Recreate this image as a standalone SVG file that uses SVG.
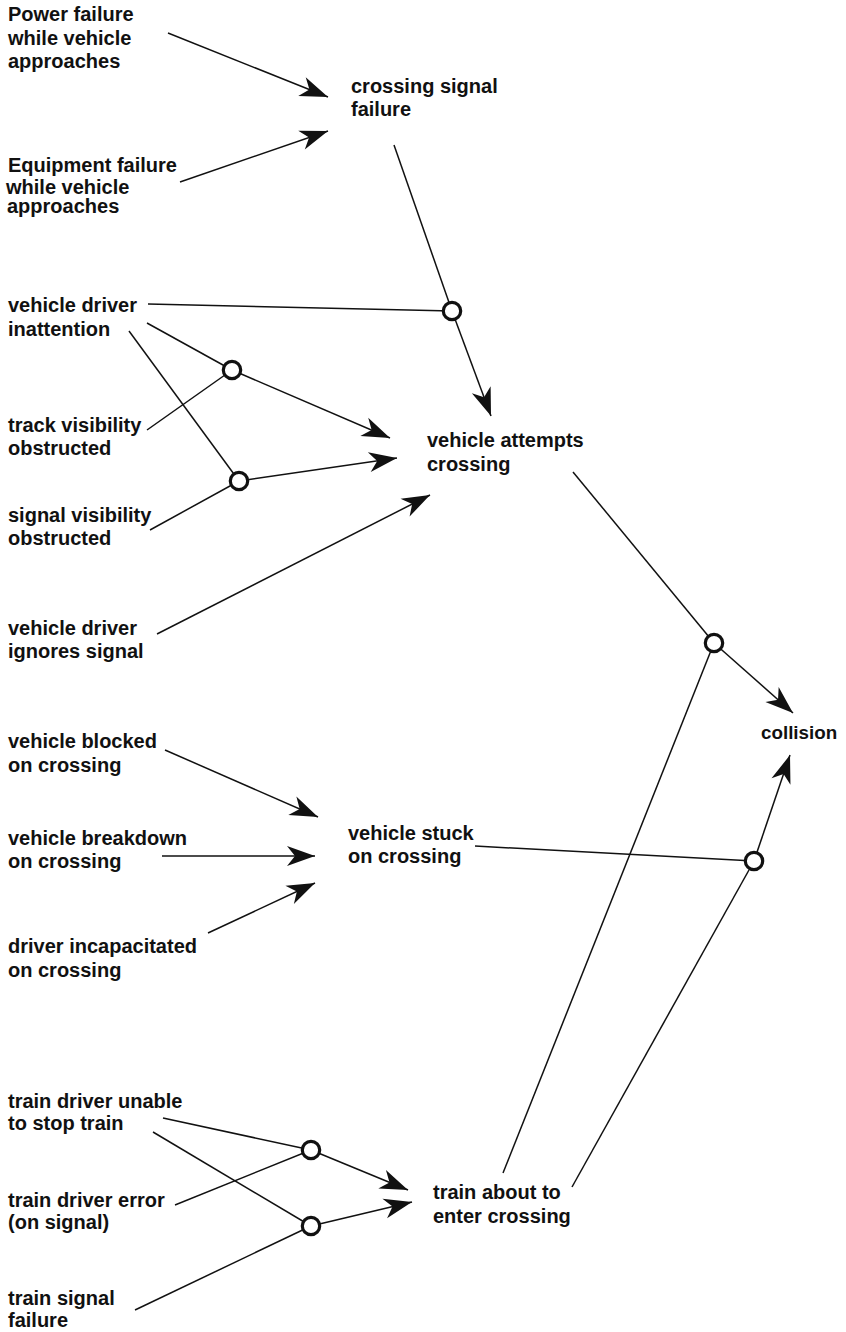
<svg xmlns="http://www.w3.org/2000/svg" width="846" height="1332" viewBox="0 0 846 1332">
  <style>
    text { font-family: "Liberation Sans", Arial, sans-serif; font-size: 20px; font-weight: bold; fill: #111; }
    .ln { stroke: #111; stroke-width: 1.5; fill: none; }
    .arr { stroke: #111; stroke-width: 1.5; fill: none; marker-end: url(#head); }
    .gate { fill: #fff; stroke: #111; stroke-width: 3.2; }
  </style>
  <defs>
    <marker id="head" viewBox="-30 -12 32 24" refX="0" refY="0" markerWidth="32" markerHeight="24" markerUnits="userSpaceOnUse" orient="auto">
      <path d="M0,0 L-28,-10 L-20,0 L-28,10 Z" fill="#111"/>
    </marker>
  </defs>

  <!-- connectors -->
  <g id="connectors">
    <line class="arr" x1="168" y1="33" x2="328" y2="97"/>
    <line class="arr" x1="180" y1="182" x2="328" y2="131"/>
    <line class="ln" x1="394" y1="145" x2="452" y2="311"/>
    <line class="arr" x1="452" y1="311" x2="491" y2="416"/>
    <line class="ln" x1="148" y1="304" x2="452" y2="311"/>
    <line class="ln" x1="147" y1="323" x2="232" y2="370"/>
    <line class="ln" x1="129" y1="331" x2="239" y2="481"/>
    <line class="ln" x1="147" y1="430" x2="232" y2="370"/>
    <line class="ln" x1="150" y1="530" x2="239" y2="481"/>
    <line class="arr" x1="232" y1="370" x2="390" y2="438"/>
    <line class="arr" x1="239" y1="481" x2="397" y2="458"/>
    <line class="arr" x1="157" y1="634" x2="430" y2="495"/>
    <line class="ln" x1="573" y1="472" x2="714" y2="643"/>
    <line class="arr" x1="714" y1="643" x2="793" y2="713"/>
    <line class="ln" x1="503" y1="1173" x2="714" y2="643"/>
    <line class="ln" x1="475" y1="846" x2="754" y2="861"/>
    <line class="ln" x1="572" y1="1187" x2="754" y2="861"/>
    <line class="arr" x1="754" y1="861" x2="790" y2="755"/>
    <line class="arr" x1="165" y1="750" x2="318" y2="817"/>
    <line class="arr" x1="162" y1="856" x2="315" y2="856"/>
    <line class="arr" x1="208" y1="933" x2="315" y2="883"/>
    <line class="ln" x1="163" y1="1118" x2="311" y2="1150"/>
    <line class="ln" x1="153" y1="1132" x2="311" y2="1226"/>
    <line class="ln" x1="175" y1="1205" x2="311" y2="1150"/>
    <line class="ln" x1="135" y1="1310" x2="311" y2="1226"/>
    <line class="arr" x1="311" y1="1150" x2="408" y2="1190"/>
    <line class="arr" x1="311" y1="1226" x2="412" y2="1202"/>
  </g>

  <!-- junction gates -->
  <g id="gates">
    <circle id="g-signal-inattention" class="gate" cx="452" cy="311" r="8.7"/>
    <circle id="g-track" class="gate" cx="232" cy="370" r="8.7"/>
    <circle id="g-signal-vis" class="gate" cx="239" cy="481" r="8.7"/>
    <circle id="g-attempt-train" class="gate" cx="714" cy="643" r="8.7"/>
    <circle id="g-stuck-train" class="gate" cx="754" cy="861" r="8.7"/>
    <circle id="g-unable-error" class="gate" cx="311" cy="1150" r="8.7"/>
    <circle id="g-unable-signal" class="gate" cx="311" cy="1226" r="8.7"/>
  </g>

  <!-- nodes -->
  <g id="power-failure"><text x="8" y="21">Power failure<tspan x="8" y="45">while vehicle</tspan><tspan x="8" y="68">approaches</tspan></text></g>
  <g id="crossing-signal-failure"><text x="351" y="93">crossing signal<tspan x="351" y="116">failure</tspan></text></g>
  <g id="equipment-failure"><text x="8" y="172">Equipment failure<tspan x="6" y="194">while vehicle</tspan><tspan x="7" y="213">approaches</tspan></text></g>
  <g id="driver-inattention"><text x="8" y="312">vehicle driver<tspan x="8" y="336">inattention</tspan></text></g>
  <g id="track-visibility"><text x="8" y="432">track visibility<tspan x="8" y="455">obstructed</tspan></text></g>
  <g id="signal-visibility"><text x="8" y="522">signal visibility<tspan x="8" y="545">obstructed</tspan></text></g>
  <g id="driver-ignores"><text x="8" y="635">vehicle driver<tspan x="8" y="658">ignores signal</tspan></text></g>
  <g id="vehicle-attempts"><text x="427" y="447">vehicle attempts<tspan x="427" y="471">crossing</tspan></text></g>
  <g id="collision"><text x="761" y="739" style="font-size:18.8px">collision</text></g>
  <g id="vehicle-blocked"><text x="8" y="748">vehicle blocked<tspan x="8" y="772">on crossing</tspan></text></g>
  <g id="vehicle-breakdown"><text x="8" y="845">vehicle breakdown<tspan x="8" y="868">on crossing</tspan></text></g>
  <g id="driver-incapacitated"><text x="8" y="953">driver incapacitated<tspan x="8" y="977">on crossing</tspan></text></g>
  <g id="vehicle-stuck"><text x="348" y="840">vehicle stuck<tspan x="348" y="863">on crossing</tspan></text></g>
  <g id="train-unable"><text x="8" y="1108">train driver unable<tspan x="8" y="1130">to stop train</tspan></text></g>
  <g id="train-error"><text x="8" y="1207">train driver error<tspan x="8" y="1229">(on signal)</tspan></text></g>
  <g id="train-signal"><text x="8" y="1305">train signal<tspan x="8" y="1327">failure</tspan></text></g>
  <g id="train-about"><text x="433" y="1199">train about to<tspan x="433" y="1223">enter crossing</tspan></text></g>
</svg>
